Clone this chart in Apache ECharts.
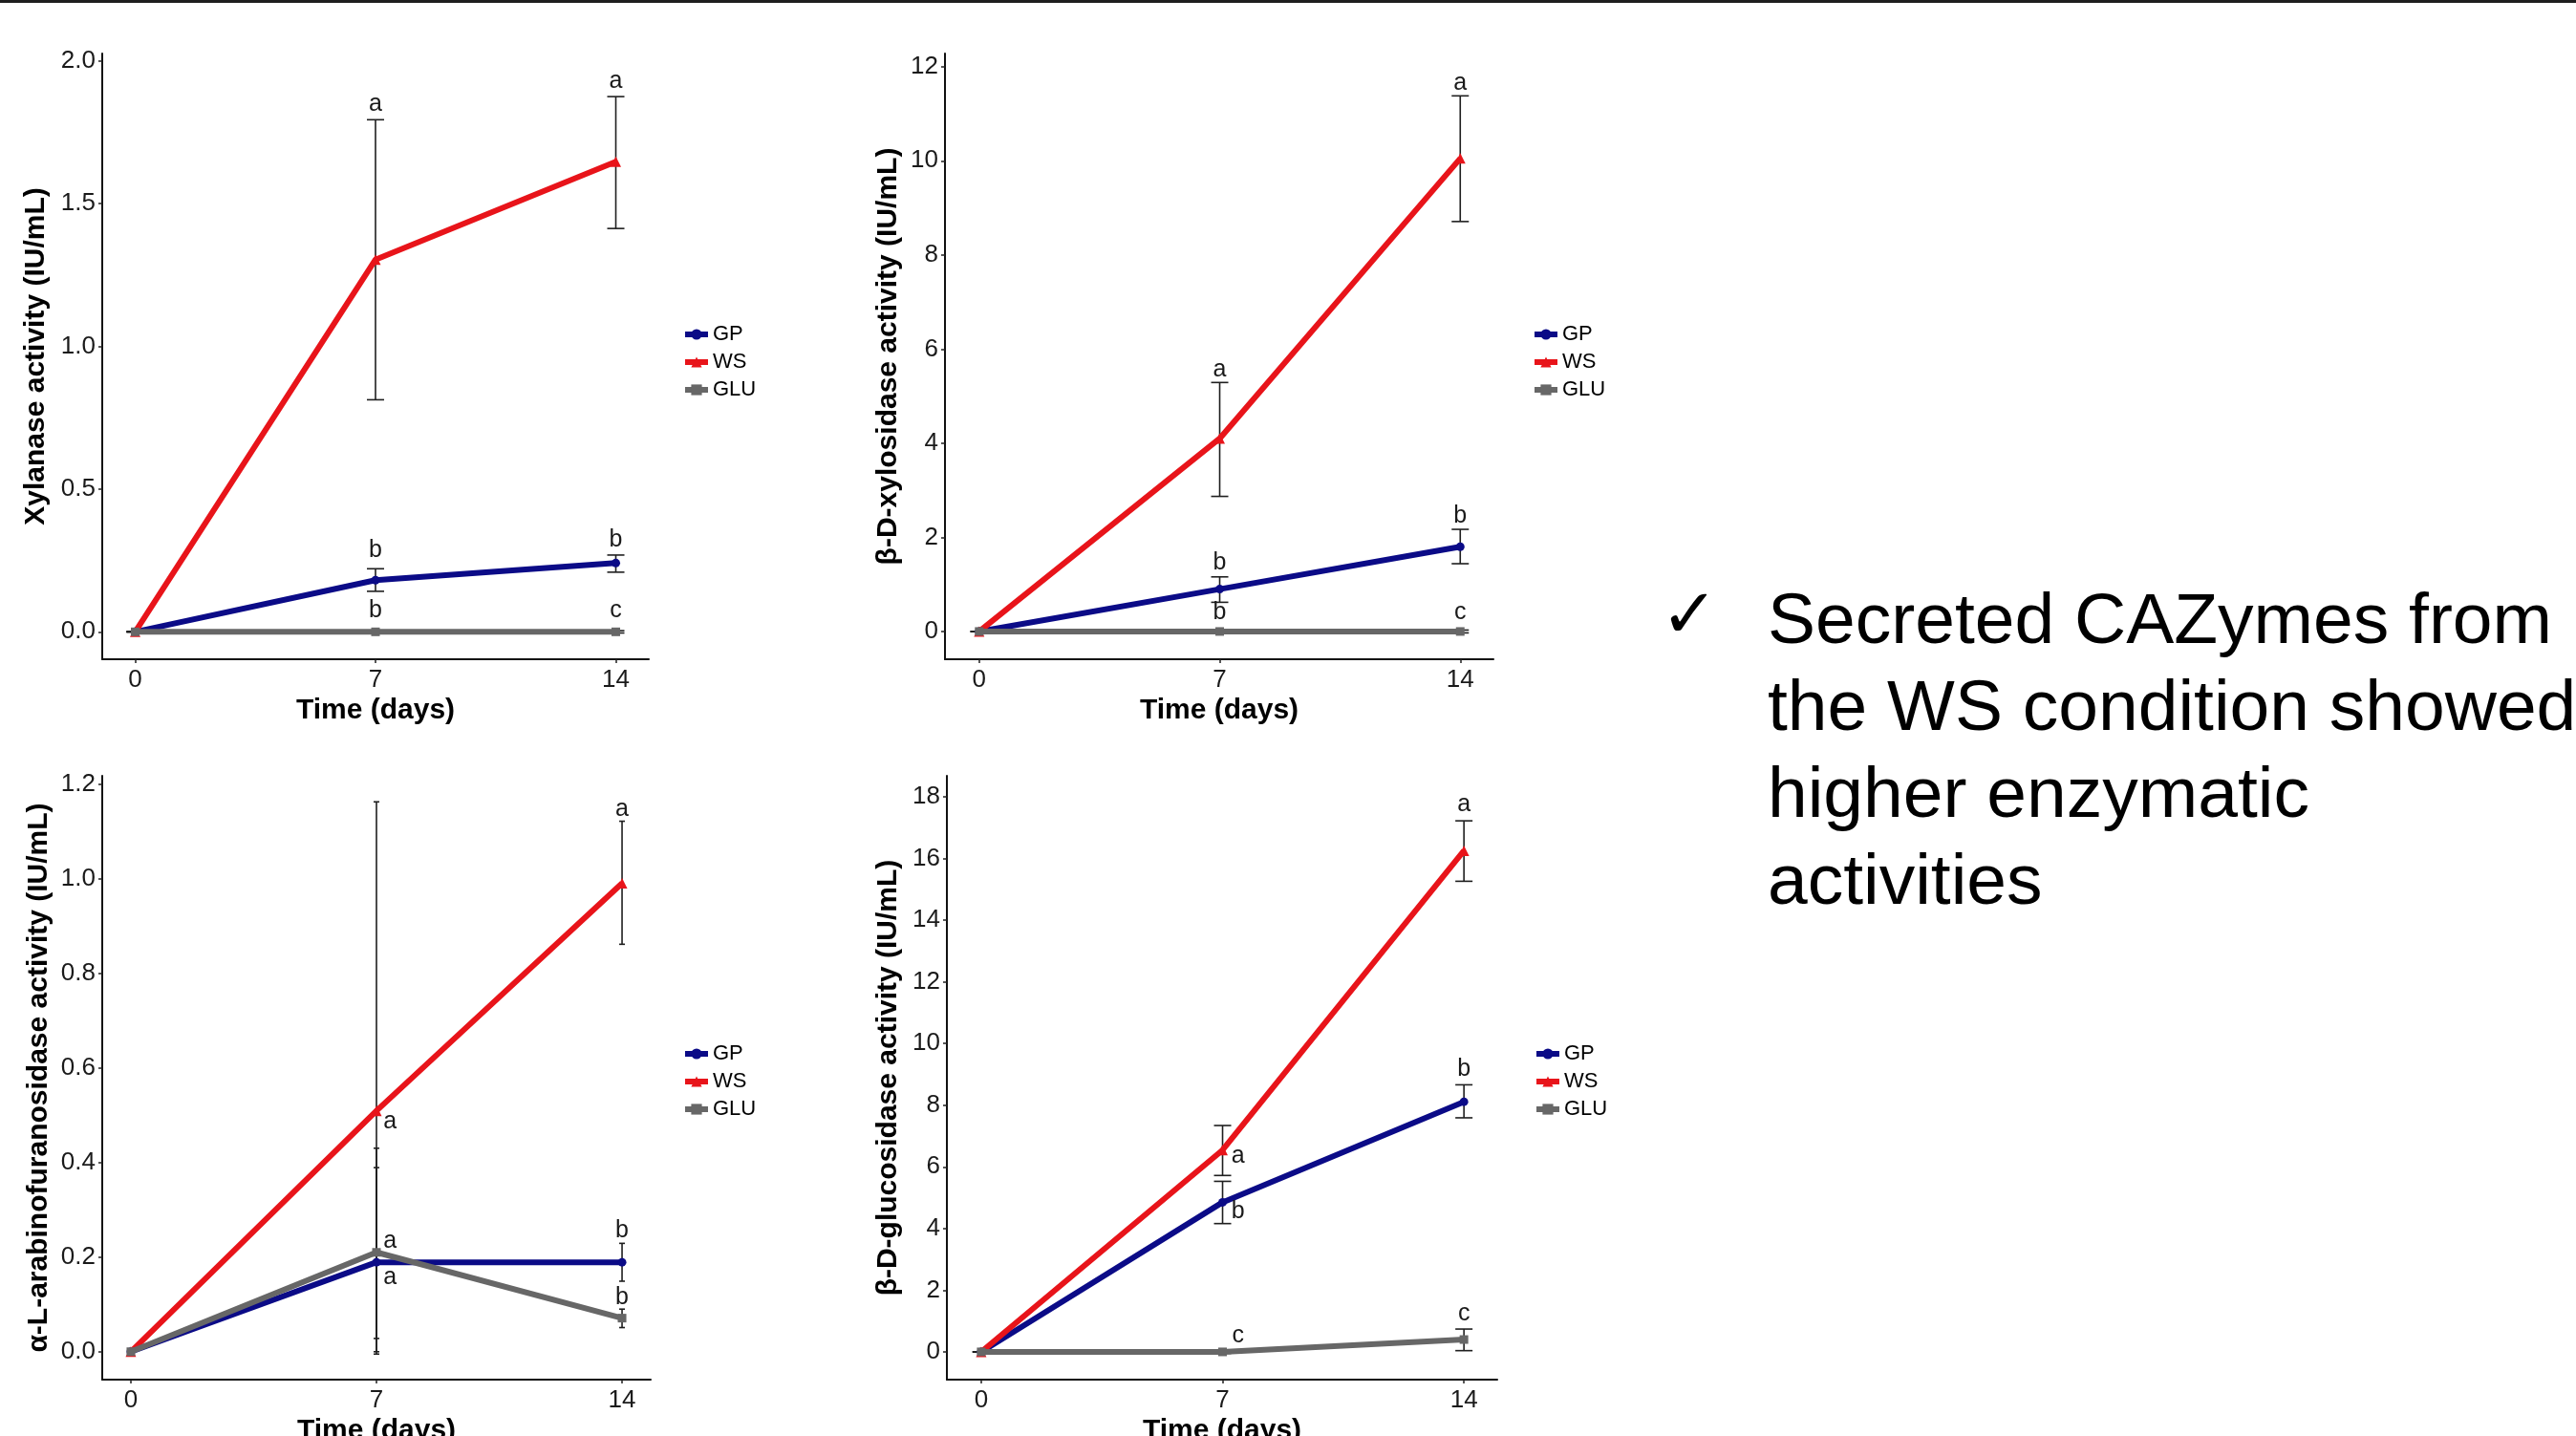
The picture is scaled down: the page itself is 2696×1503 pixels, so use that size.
<!DOCTYPE html>
<html><head><meta charset="utf-8">
<script src="https://cdn.jsdelivr.net/npm/echarts@6/dist/echarts.min.js"></script>
<style>html,body{margin:0;padding:0;background:#fff}#c{width:2696px;height:1503px}</style>
</head><body><div id="c"></div>
<script>
// ---------------- DATA ----------------
const days = [0, 7, 14];
const groupNames = ['GP', 'WS', 'GLU'];
const xTicks = [0, 7, 14];

// Panel 1: Xylanase
const xylGP = [0, 0.181, 0.241];
const xylGPLow = [0, 0.142, 0.209];
const xylGPHigh = [0, 0.221, 0.269];
const xylWS = [0, 1.304, 1.647];
const xylWSLow = [0, 0.813, 1.413];
const xylWSHigh = [0, 1.794, 1.875];
const xylGLU = [0, 0, 0];
const xylGLULow = [0, -0.004, -0.004];
const xylGLUHigh = [0, 0.004, 0.004];
const xylTicks = [0, 0.5, 1.0, 1.5, 2.0];
const xylLetterX = [7, 14, 7, 14, 7, 14];
const xylLetterY = [1.848, 1.927, 0.285, 0.323, 0.073, 0.073];
const xylLetters = ['a', 'a', 'b', 'b', 'b', 'c'];

// Panel 2: beta-D-xylosidase
const bxyGP = [0, 0.90, 1.80];
const bxyGPLow = [0, 0.62, 1.44];
const bxyGPHigh = [0, 1.16, 2.17];
const bxyWS = [0, 4.10, 10.05];
const bxyWSLow = [0, 2.87, 8.71];
const bxyWSHigh = [0, 5.29, 11.38];
const bxyGLU = [0, 0, 0];
const bxyGLULow = [0, -0.03, -0.03];
const bxyGLUHigh = [0, 0.03, 0.03];
const bxyTicks = [0, 2, 4, 6, 8, 10, 12];
const bxyLetterX = [14, 7, 7, 14, 7, 14];
const bxyLetterY = [11.65, 5.56, 1.46, 2.45, 0.41, 0.41];
const bxyLetters = ['a', 'a', 'b', 'b', 'b', 'c'];

// Panel 3: alpha-L-arabinofuranosidase
const araGP = [0, 0.189, 0.189];
const araGPLow = [0, 0.028, 0.149];
const araGPHigh = [0, 0.389, 0.229];
const araWS = [0, 0.509, 0.99];
const araWSLow = [0, 0.0, 0.861];
const araWSHigh = [0, 1.162, 1.121];
const araGLU = [0, 0.210, 0.071];
const araGLULow = [0, -0.005, 0.051];
const araGLUHigh = [0, 0.43, 0.09];
const araTicks = [0, 0.2, 0.4, 0.6, 0.8, 1.0, 1.2];
const araLetterX = [14, 7.39, 7.39, 7.39, 14, 14];
const araLetterY = [1.146, 0.486, 0.234, 0.156, 0.255, 0.115];
const araLetters = ['a', 'a', 'a', 'a', 'b', 'b'];

// Panel 4: beta-D-glucosidase
const bglGP = [0, 4.85, 8.11];
const bglGPLow = [0, 4.16, 7.59];
const bglGPHigh = [0, 5.53, 8.66];
const bglWS = [0, 6.545, 16.25];
const bglWSLow = [0, 5.72, 15.26];
const bglWSHigh = [0, 7.34, 17.22];
const bglGLU = [0, 0.0, 0.40];
const bglGLULow = [0, -0.05, 0.04];
const bglGLUHigh = [0, 0.05, 0.74];
const bglTicks = [0, 2, 4, 6, 8, 10, 12, 14, 16, 18];
const bglLetterX = [14, 14, 7.45, 7.45, 7.45, 14];
const bglLetterY = [17.74, 9.15, 6.34, 4.56, 0.51, 1.23];
const bglLetters = ['a', 'b', 'a', 'b', 'c', 'c'];

const yTitles = ['Xylanase activity (IU/mL)', 'β-D-xylosidase activity (IU/mL)',
  'α-L-arabinofuranosidase activity (IU/mL)', 'β-D-glucosidase activity (IU/mL)'];
const xTitle = 'Time (days)';
const noteText = 'Secreted CAZymes from\nthe WS condition showed\nhigher enzymatic\nactivities';

// ---------------- LAYOUT / STYLE ----------------
const FONT = 'Liberation Sans, Arial, sans-serif';
const colors = { GP: '#0b0b87', WS: '#e8141a', GLU: '#676767' };
const symbols = { GP: 'circle', WS: 'triangle', GLU: 'rect' };

const panels = [
  { grid: { left: 107, top: 56, width: 572, height: 634 }, xr: [-0.96, 14.96], yr: [-0.096, 2.026], dec: 1, nameGap: 54, cap: 9,
    ticks: xylTicks, vals: [xylGP, xylWS, xylGLU], lows: [xylGPLow, xylWSLow, xylGLULow], highs: [xylGPHigh, xylWSHigh, xylGLUHigh],
    lx: xylLetterX, ly: xylLetterY, lt: xylLetters, legend: { left: 709, top: 334 } },
  { grid: { left: 989, top: 56, width: 574, height: 634 }, xr: [-0.995, 14.966], yr: [-0.59, 12.28], dec: 0, nameGap: 44, cap: 9,
    ticks: bxyTicks, vals: [bxyGP, bxyWS, bxyGLU], lows: [bxyGPLow, bxyWSLow, bxyGLULow], highs: [bxyGPHigh, bxyWSHigh, bxyGLUHigh],
    lx: bxyLetterX, ly: bxyLetterY, lt: bxyLetters, legend: { left: 1598, top: 334 } },
  { grid: { left: 107, top: 812, width: 574, height: 632 }, xr: [-0.816, 14.816], yr: [-0.059, 1.217], dec: 1, nameGap: 51, cap: 3,
    ticks: araTicks, vals: [araGP, araWS, araGLU], lows: [araGPLow, araWSLow, araGLULow], highs: [araGPHigh, araWSHigh, araGLUHigh],
    lx: araLetterX, ly: araLetterY, lt: araLetters, legend: { left: 709, top: 1087 } },
  { grid: { left: 991, top: 812, width: 576, height: 632 }, xr: [-0.995, 14.966], yr: [-0.90, 18.68], dec: 0, nameGap: 46, cap: 9,
    ticks: bglTicks, vals: [bglGP, bglWS, bglGLU], lows: [bglGPLow, bglWSLow, bglGLULow], highs: [bglGPHigh, bglWSHigh, bglGLUHigh],
    lx: bglLetterX, ly: bglLetterY, lt: bglLetters, legend: { left: 1600, top: 1087 } }
];

const axisLineStyle = { color: '#111', width: 2 };
const option = {
  animation: false,
  backgroundColor: '#fff',
  grid: [], xAxis: [], yAxis: [], legend: [], series: [],
  graphic: [
    { type: 'rect', shape: { x: 0, y: 0, width: 2696, height: 3 }, style: { fill: '#1e1e1e' } },
    { type: 'text', x: 1738, y: 648, style: { text: '✓', font: '72px DejaVu Sans', fill: '#000', verticalAlign: 'middle' } },
    { type: 'text', x: 1850, y: 607, style: { text: noteText, fontFamily: FONT, fontSize: 75, lineHeight: 91, fill: '#000', verticalAlign: 'top' } }
  ]
};

panels.forEach((p, i) => {
  option.grid.push(Object.assign({ outerBoundsMode: 'none', containLabel: false }, p.grid));
  option.xAxis.push({
    type: 'value', gridIndex: i, min: p.xr[0], max: p.xr[1],
    name: xTitle, nameLocation: 'middle', nameGap: 39,
    nameTextStyle: { fontFamily: FONT, fontSize: 30, fontWeight: 'bold', color: '#000' },
    axisLine: { show: true, onZero: false, lineStyle: axisLineStyle },
    axisTick: { show: true, length: 4, lineStyle: { color: '#222', width: 1.5 }, customValues: xTicks },
    axisLabel: { customValues: xTicks, fontFamily: FONT, fontSize: 26, color: '#1a1a1a', margin: 9 },
    splitLine: { show: false }
  });
  option.yAxis.push({
    type: 'value', gridIndex: i, min: p.yr[0], max: p.yr[1],
    name: yTitles[i], nameLocation: 'middle', nameGap: p.nameGap,
    nameTextStyle: { fontFamily: FONT, fontSize: 30, fontWeight: 'bold', color: '#000' },
    axisLine: { show: true, onZero: false, lineStyle: axisLineStyle },
    axisTick: { show: true, length: 4, lineStyle: { color: '#222', width: 1.5 }, customValues: p.ticks },
    axisLabel: { customValues: p.ticks, fontFamily: FONT, fontSize: 26, color: '#1a1a1a', margin: 7,
      formatter: v => Number(v).toFixed(p.dec) },
    splitLine: { show: false }
  });
  option.legend.push({
    data: groupNames, orient: 'vertical', left: p.legend.left, top: p.legend.top,
    itemWidth: 24, itemHeight: 14, itemGap: 7, selectedMode: false,
    lineStyle: { width: 6 },
    textStyle: { fontFamily: FONT, fontSize: 22, color: '#000', lineHeight: 22 }
  });
  // error bars (below lines)
  groupNames.forEach((g, k) => {
    const cap = p.cap;
    option.series.push({
      type: 'custom', xAxisIndex: i, yAxisIndex: i, z: 1, silent: true,
      encode: { x: 0, y: [1, 2] },
      data: days.map((d, j) => [d, p.lows[k][j], p.highs[k][j]]),
      renderItem: (params, api) => {
        const x = api.value(0);
        const a = api.coord([x, api.value(1)]);
        const b = api.coord([x, api.value(2)]);
        const st = { stroke: '#1f1f1f', lineWidth: 1.6 };
        return { type: 'group', children: [
          { type: 'line', shape: { x1: a[0], y1: a[1], x2: b[0], y2: b[1] }, style: st },
          { type: 'line', shape: { x1: a[0] - cap, y1: a[1], x2: a[0] + cap, y2: a[1] }, style: st },
          { type: 'line', shape: { x1: b[0] - cap, y1: b[1], x2: b[0] + cap, y2: b[1] }, style: st }
        ] };
      }
    });
  });
  groupNames.forEach((g, k) => {
    option.series.push({
      name: g, type: 'line', xAxisIndex: i, yAxisIndex: i, z: 3 + k,
      data: days.map((d, j) => [d, p.vals[k][j]]),
      symbol: symbols[g], symbolSize: g === 'WS' ? 11 : 9, showSymbol: true,
      itemStyle: { color: colors[g] },
      lineStyle: { color: colors[g], width: 6 },
      emphasis: { disabled: true }
    });
  });
  // significance letters
  option.series.push({
    type: 'custom', xAxisIndex: i, yAxisIndex: i, z: 10, silent: true,
    encode: { x: 0, y: 1 },
    data: p.lx.map((x, j) => [x, p.ly[j]]),
    renderItem: (params, api) => {
      const c = api.coord([api.value(0), api.value(1)]);
      return { type: 'text', x: c[0], y: c[1], style: { text: p.lt[params.dataIndex], fontFamily: FONT, fontSize: 25,
        fill: '#1a1a1a', align: 'center', verticalAlign: 'middle' } };
    }
  });
});

const chart = echarts.init(document.getElementById('c'), null, { renderer: 'canvas' });
chart.setOption(option);
</script></body></html>
